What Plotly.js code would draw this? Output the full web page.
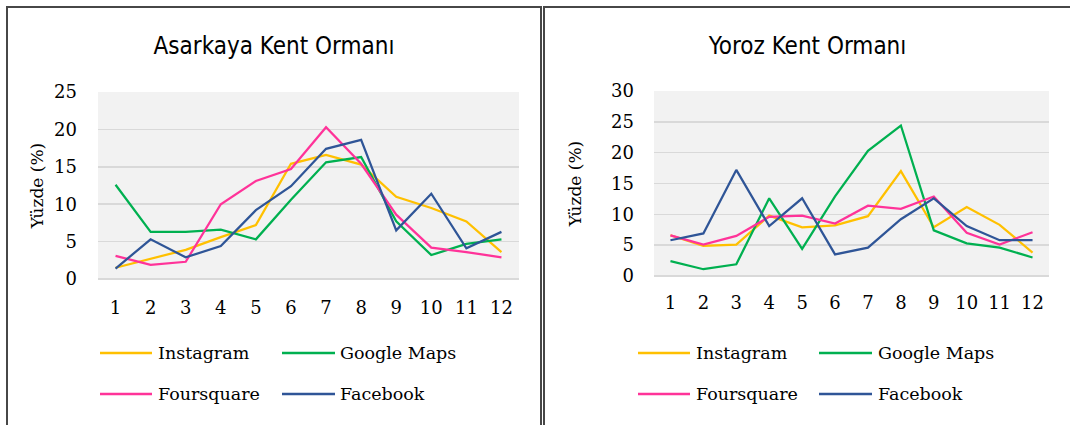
<!DOCTYPE html>
<html>
<head>
<meta charset="utf-8">
<script src="https://cdn.plot.ly/plotly-3.0.1.min.js"></script>
<style>
  html, body { margin:0; padding:0; background:#fff; width:1070px; height:425px; overflow:hidden; }
  .box { position:absolute; box-sizing:border-box; border-color:#474747; border-style:solid; }
  .plot { position:absolute; }
</style>
</head>
<body>
<div class="box" style="left:6px; top:6px; width:536px; height:425px; border-width:2px 2px 0 2px;"></div>
<div class="box" style="left:543px; top:6px; width:540px; height:425px; border-width:2px 0 0 2px;"></div>
<div id="chart1" class="plot" style="left:8px; top:8px; width:532px; height:417px;"></div>
<div id="chart2" class="plot" style="left:545px; top:8px; width:525px; height:417px;"></div>
<script>
// ---- Data ----
const months = ["1","2","3","4","5","6","7","8","9","10","11","12"];
const seriesNames = ["Instagram", "Google Maps", "Foursquare", "Facebook"];
const seriesColors = ["#FFC000", "#00B050", "#FF3399", "#2F5597"];

const chart1Title = "Asarkaya Kent Ormanı";
const asarkayaInstagram  = [1.5, 2.7, 3.9, 5.6, 7.2, 15.4, 16.6, 15.3, 11.0, 9.5, 7.7, 3.6];
const asarkayaGoogleMaps = [12.6, 6.3, 6.3, 6.6, 5.3, 10.6, 15.6, 16.3, 7.7, 3.2, 4.7, 5.3];
const asarkayaFoursquare = [3.1, 1.9, 2.3, 10.0, 13.1, 14.7, 20.3, 15.4, 8.6, 4.2, 3.6, 2.9];
const asarkayaFacebook   = [1.4, 5.3, 2.9, 4.4, 9.2, 12.4, 17.4, 18.6, 6.5, 11.4, 4.1, 6.3];

const chart2Title = "Yoroz Kent Ormanı";
const yorozInstagram  = [6.6, 4.9, 5.1, 9.8, 7.9, 8.2, 9.7, 17.0, 7.9, 11.2, 8.3, 3.8];
const yorozGoogleMaps = [2.4, 1.1, 1.9, 12.6, 4.4, 12.9, 20.3, 24.4, 7.4, 5.3, 4.6, 3.0];
const yorozFoursquare = [6.6, 5.1, 6.5, 9.6, 9.8, 8.5, 11.4, 10.9, 12.9, 7.0, 5.1, 7.1];
const yorozFacebook   = [5.8, 6.9, 17.2, 8.1, 12.6, 3.5, 4.6, 9.2, 12.6, 8.1, 5.8, 5.8];

const yAxisTitle = "Yüzde (%)";

// ---- Drawing ----
const SERIF = "DejaVu Serif, Liberation Serif, serif";
const TITLEFONT = "Liberation Sans Narrow, DejaVu Sans Condensed, sans-serif";

function makeChart(cfg) {
  const W = cfg.width, H = cfg.height, m = cfg.margin;
  const pw = W - m.l - m.r, ph = H - m.t - m.b;
  const px2x = px => (px - cfg.left - m.l) / pw;
  const py2y = py => (cfg.top + H - m.b - py) / ph;

  const traces = cfg.series.map((vals, i) => ({
    type: "scatter", mode: "lines",
    x: months, y: vals, name: seriesNames[i],
    line: { color: seriesColors[i], width: 2.25 },
    showlegend: false, hoverinfo: "skip"
  }));

  const shapes = [], annotations = [];
  cfg.legendPos.forEach((p, i) => {
    shapes.push({
      type: "line", xref: "paper", yref: "paper",
      x0: px2x(p.x0), x1: px2x(p.x1), y0: py2y(p.y), y1: py2y(p.y),
      line: { color: seriesColors[i], width: 2.5 }
    });
    annotations.push({
      xref: "paper", yref: "paper", x: px2x(p.tx), y: py2y(p.y),
      xanchor: "left", yanchor: "middle", showarrow: false,
      text: seriesNames[i], font: { family: SERIF, size: 17.5, color: "#000" }
    });
  });

  const layout = {
    width: W, height: H,
    margin: m,
    paper_bgcolor: "rgba(0,0,0,0)",
    plot_bgcolor: "#F2F2F2",
    showlegend: false,
    title: {
      text: cfg.title, xref: "container", x: 0.5, xanchor: "center",
      yref: "container", y: 1 - (cfg.titleY - cfg.top) / H, yanchor: "middle",
      font: { family: TITLEFONT, size: 24, color: "#000" }
    },
    xaxis: {
      type: "category", range: [-0.5, 11.5], showgrid: false, zeroline: false, showline: false,
      ticks: "", ticklabelstandoff: cfg.xStandoff,
      tickfont: { family: SERIF, size: 18, color: "#000" }, fixedrange: true
    },
    yaxis: {
      range: [0, cfg.ymax], dtick: 5, tick0: 0,
      showgrid: true, gridcolor: "#D9D9D9", gridwidth: 1.5,
      zeroline: true, zerolinecolor: "#D9D9D9", zerolinewidth: 1.5,
      showline: false, ticks: "", ticklabelstandoff: cfg.yStandoff,
      tickfont: { family: SERIF, size: 18, color: "#000" },
      title: { text: yAxisTitle, standoff: cfg.titleStandoff, font: { family: SERIF, size: 17, color: "#000" } },
      automargin: false, fixedrange: true
    },
    shapes: shapes,
    annotations: annotations
  };
  Plotly.newPlot(cfg.id, traces, layout, { staticPlot: true, displayModeBar: false });
}

makeChart({
  id: "chart1", left: 8, top: 8, width: 532, height: 417,
  margin: { l: 90, r: 21, t: 84, b: 146, pad: 0 },
  title: chart1Title, titleY: 46, ymax: 25,
  xStandoff: 16, yStandoff: 20, titleStandoff: 6,
  series: [asarkayaInstagram, asarkayaGoogleMaps, asarkayaFoursquare, asarkayaFacebook],
  legendPos: [
    { x0: 100, x1: 152, tx: 156, y: 353 },
    { x0: 282, x1: 335, tx: 338, y: 353 },
    { x0: 100, x1: 152, tx: 156, y: 394 },
    { x0: 282, x1: 335, tx: 338, y: 394 }
  ]
});

makeChart({
  id: "chart2", left: 545, top: 8, width: 525, height: 417,
  margin: { l: 109, r: 21, t: 83, b: 149, pad: 0 },
  title: chart2Title, titleY: 46, ymax: 30,
  xStandoff: 14, yStandoff: 19, titleStandoff: 25,
  series: [yorozInstagram, yorozGoogleMaps, yorozFoursquare, yorozFacebook],
  legendPos: [
    { x0: 638, x1: 690, tx: 694, y: 353 },
    { x0: 819, x1: 872, tx: 876, y: 353 },
    { x0: 638, x1: 690, tx: 694, y: 394 },
    { x0: 819, x1: 872, tx: 876, y: 394 }
  ]
});
</script>
</body>
</html>
